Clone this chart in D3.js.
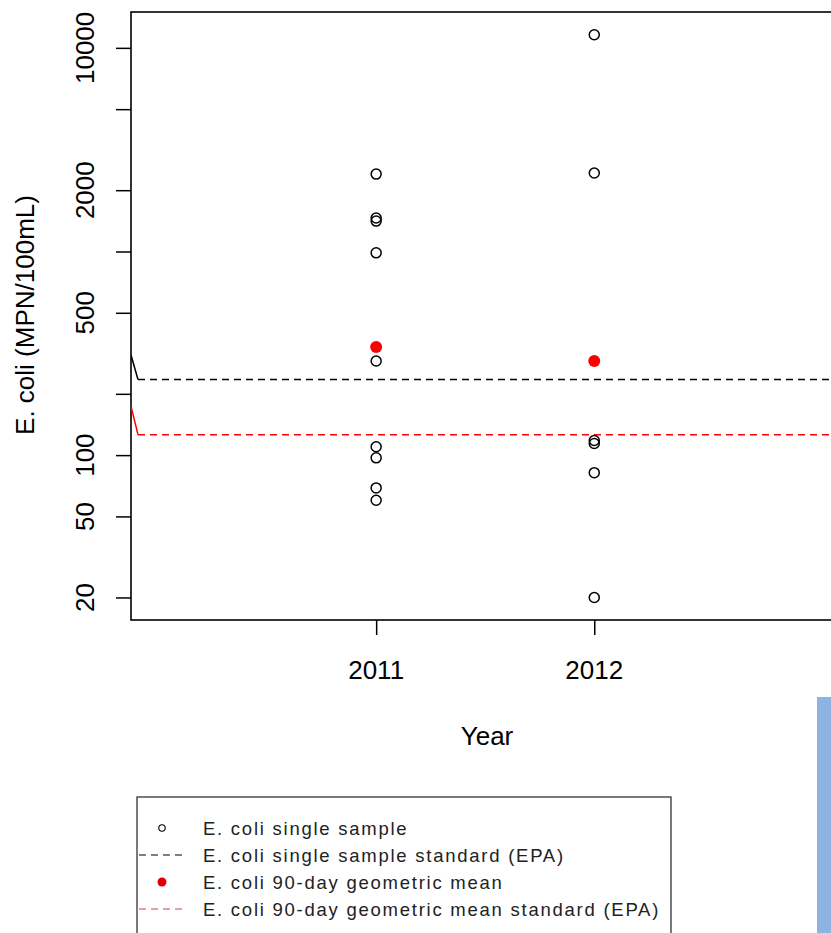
<!DOCTYPE html>
<html>
<head>
<meta charset="utf-8">
<script src="https://cdn.jsdelivr.net/npm/d3@7"></script>
<style>
  body { margin: 0; background: #fff; }
  svg { display: block; font-family: "Liberation Sans", Arial, sans-serif; }
</style>
</head>
<body>
<div id="chart"></div>
<script>
// single samples (MPN/100mL) by year
const years = [2011, 2012];
const single2011 = [2400, 1460, 1410, 985, 290, 110, 97, 69, 60];
const single2012 = [11600, 2430, 118, 114, 82, 20];
// 90-day geometric mean
const gmYears = [2011, 2012];
const gmValues = [340, 290];
// EPA standards (first point is the lead-in at the left edge)
const stdYears = [2009.876, 2009.908, 2013.2];
const ssStd = [310, 235, 235];
const gmStd = [174, 126, 126];

const yTicks = [20, 50, 100, 200, 500, 1000, 2000, 5000, 10000];
const yLabels = [20, 50, 100, 500, 2000, 10000];

const legendItems = [
  "E. coli single sample",
  "E. coli single sample standard (EPA)",
  "E. coli 90-day geometric mean",
  "E. coli 90-day geometric mean standard (EPA)"
];

const W = 831, H = 933;
const plot = { left: 131, top: 12, right: 856, bottom: 620 };

const svg = d3.select("#chart").append("svg")
  .attr("width", W)
  .attr("height", H);

const x = d3.scaleLinear()
  .domain([2009.876, 2013.2])
  .range([plot.left, plot.right]);

const y = d3.scaleLog()
  .domain([15.5, 15000])
  .range([plot.bottom, plot.top]);

svg.append("clipPath").attr("id", "clip")
  .append("rect")
  .attr("x", plot.left).attr("y", plot.top)
  .attr("width", plot.right - plot.left).attr("height", plot.bottom - plot.top);

// box
svg.append("rect")
  .attr("x", plot.left).attr("y", plot.top)
  .attr("width", plot.right - plot.left).attr("height", plot.bottom - plot.top)
  .style("fill", "none")
  .style("stroke", "#000")
  .style("stroke-width", 1.6);

// y axis
const yAxis = svg.append("g")
  .attr("transform", `translate(${plot.left},0)`)
  .call(d3.axisLeft(y).tickValues(yTicks).tickSize(15).tickFormat(""));
yAxis.select(".domain").remove();
yAxis.selectAll("line").style("stroke-width", 1.5);

svg.selectAll(".ylab")
  .data(yLabels)
  .enter().append("text")
  .attr("class", "ylab")
  .attr("transform", (d) => `translate(94, ${y(d)}) rotate(-90)`)
  .attr("text-anchor", "middle")
  .style("font-size", "26px")
  .text((d) => d);

// x axis
const xAxis = svg.append("g")
  .attr("transform", `translate(0,${plot.bottom})`)
  .call(d3.axisBottom(x).tickValues(years).tickSize(15).tickFormat(""));
xAxis.select(".domain").remove();
xAxis.selectAll("line").style("stroke-width", 1.5);

svg.selectAll(".xlab")
  .data(years)
  .enter().append("text")
  .attr("class", "xlab")
  .attr("x", (d) => x(d))
  .attr("y", 679)
  .attr("text-anchor", "middle")
  .style("font-size", "26px")
  .text((d) => d);

svg.append("text")
  .attr("x", 487).attr("y", 745)
  .attr("text-anchor", "middle")
  .style("font-size", "26px")
  .text("Year");

svg.append("text")
  .attr("transform", `translate(34, 315) rotate(-90)`)
  .attr("text-anchor", "middle")
  .style("font-size", "26px")
  .text("E. coli (MPN/100mL)");

// standards
const g = svg.append("g").attr("clip-path", "url(#clip)");

function stdLine(vals, color) {
  const pts = stdYears.map((d, i) => [x(d), y(vals[i])]);
  g.append("path")
    .attr("d", d3.line()(pts.slice(0, 2)))
    .style("fill", "none")
    .style("stroke", color)
    .style("stroke-width", 1.5);
  g.append("path")
    .attr("d", d3.line()(pts.slice(1)))
    .style("fill", "none")
    .style("stroke", color)
    .style("stroke-width", 1.5)
    .style("stroke-dasharray", "7,5");
}
stdLine(ssStd, "#000");
stdLine(gmStd, "#ff0000");

// single samples
const samples = [];
single2011.forEach((v) => samples.push({ year: 2011, value: v }));
single2012.forEach((v) => samples.push({ year: 2012, value: v }));

g.selectAll(".pt")
  .data(samples)
  .enter().append("circle")
  .attr("class", "pt")
  .attr("cx", (d) => x(d.year))
  .attr("cy", (d) => y(d.value))
  .attr("r", 5)
  .style("fill", "none")
  .style("stroke", "#000")
  .style("stroke-width", 1.5);

g.selectAll(".gm")
  .data(gmYears)
  .enter().append("circle")
  .attr("class", "gm")
  .attr("cx", (d) => x(d))
  .attr("cy", (d, i) => y(gmValues[i]))
  .attr("r", 6)
  .style("fill", "#ff0000");

// legend
const lg = svg.append("g");
lg.append("rect")
  .attr("x", 137).attr("y", 797)
  .attr("width", 534).attr("height", 160)
  .style("fill", "#fff")
  .style("stroke", "#222")
  .style("stroke-width", 1.2);

const rowY = (i) => 828 + i * 27;

lg.selectAll(".ltxt")
  .data(legendItems)
  .enter().append("text")
  .attr("class", "ltxt")
  .attr("x", 203)
  .attr("y", (d, i) => rowY(i) + 7)
  .style("font-size", "18.5px")
  .style("letter-spacing", "1.75px")
  .style("fill", "#222")
  .text((d) => d);

lg.append("circle")
  .attr("cx", 162).attr("cy", rowY(0)).attr("r", 3.2)
  .style("fill", "none").style("stroke", "#000").style("stroke-width", 1.1);
lg.append("line")
  .attr("x1", 139).attr("x2", 184).attr("y1", rowY(1)).attr("y2", rowY(1))
  .style("stroke", "#000").style("stroke-width", 1.2).style("stroke-dasharray", "7,5");
lg.append("circle")
  .attr("cx", 162).attr("cy", rowY(2)).attr("r", 4.5)
  .style("fill", "#e00000");
lg.append("line")
  .attr("x1", 139).attr("x2", 184).attr("y1", rowY(3)).attr("y2", rowY(3))
  .style("stroke", "#d04040").style("stroke-width", 1.2).style("stroke-dasharray", "7,5");

// blue strip at right edge
svg.append("rect")
  .attr("x", 817).attr("y", 697)
  .attr("width", 14).attr("height", 236)
  .style("fill", "#8db3e2");
</script>
</body>
</html>
